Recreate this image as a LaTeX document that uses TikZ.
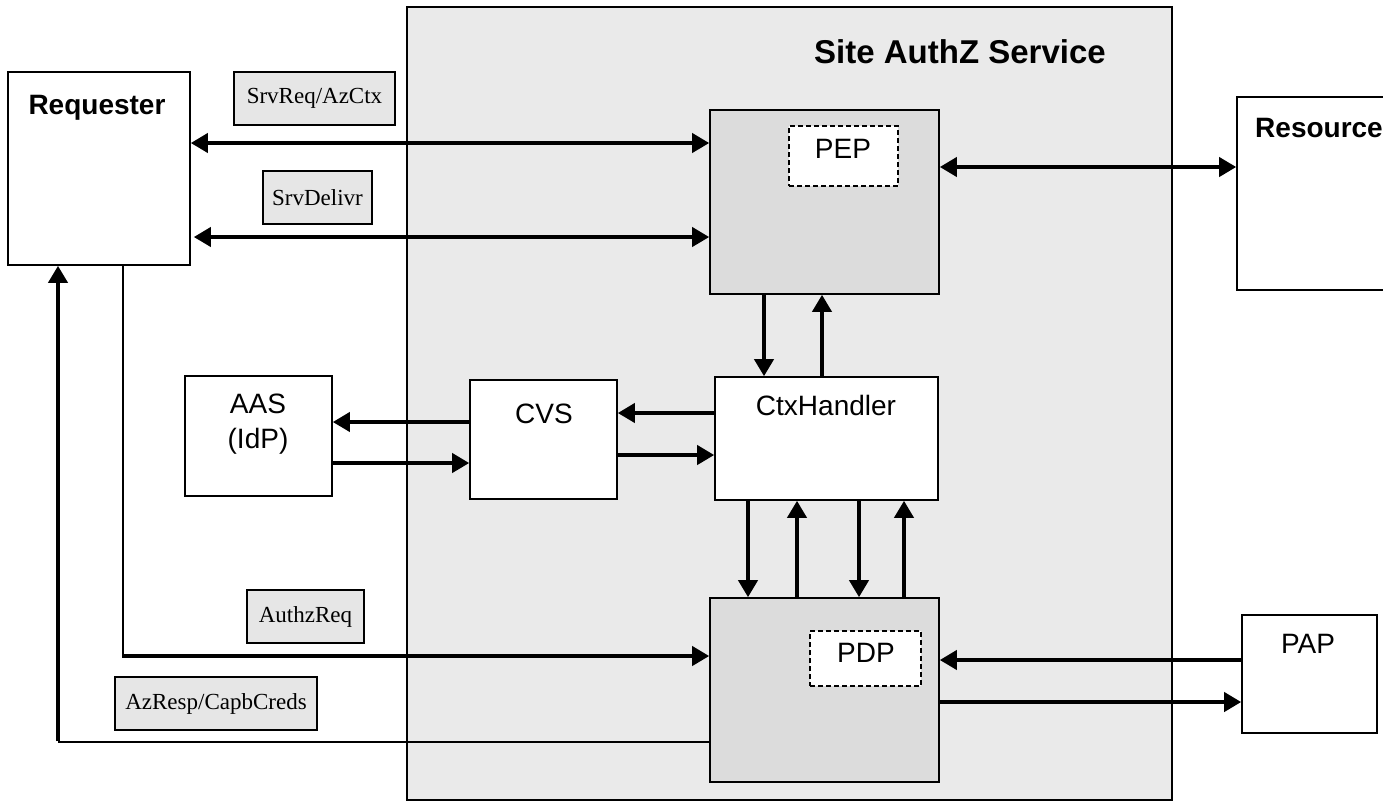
\documentclass[tikz,border=0pt]{standalone}
\usepackage{fontspec}
\setmainfont{Liberation Serif}
\newfontfamily\arial{Liberation Sans}
\usetikzlibrary{arrows.meta}
\definecolor{sitegray}{HTML}{EAEAEA}
\definecolor{unitgray}{HTML}{DCDCDC}
\definecolor{taggray}{HTML}{E6E6E6}
\begin{document}
\begin{tikzpicture}[x=1pt,y=-1pt,
  box/.style={draw=black,line width=1.6pt,fill=white,inner sep=0pt},
  unit/.style={box,fill=unitgray},
  inner/.style={box,dashed,dash pattern=on 5pt off 3pt,line width=1.8pt},
  tag/.style={box,fill=taggray,font=\fontsize{23}{26}\selectfont},
  sans/.style={font=\arial\fontsize{28}{32}\selectfont,anchor=base,inner sep=0pt},
  bsans/.style={font=\arial\bfseries\fontsize{28}{32}\selectfont,anchor=base,inner sep=0pt},
  tip/.style={line width=3.8pt,-{Triangle[length=17pt,width=19pt]}},
  bitip/.style={line width=3.8pt,{Triangle[length=17pt,width=19pt]}-{Triangle[length=17pt,width=19pt]}},
  thin/.style={line width=2pt}
]
\useasboundingbox (0,0) rectangle (1383,804);
\clip (0,0) rectangle (1383,804);

% service boundary
\node[box,fill=sitegray,minimum width=765pt,minimum height=793pt] (site) at (789.5,403.5) {};
\node[font=\arial\bfseries\fontsize{33}{38}\selectfont,anchor=base,inner sep=0pt] (sitet) at (960,63) {Site AuthZ Service};

% outside parties
\node[box,minimum width=182pt,minimum height=193pt] (req) at (99,168.5) {};
\node[bsans] (reqt) at (97,114) {Requester};
\node[box,minimum width=183pt,minimum height=193pt] (res) at (1328.5,193.5) {};
\node[bsans,anchor=base west] (rest) at (1255,137) {Resource};
\node[box,minimum width=147pt,minimum height=120pt] (aas) at (258.5,436) {};
\node[sans] (aast) at (258,413) {AAS};
\node[sans] (aast2) at (258,448) {(IdP)};
\node[box,minimum width=135pt,minimum height=118pt] (pap) at (1309.5,674) {};
\node[sans] (papt) at (1308,653) {PAP};

% service components
\node[unit,minimum width=229pt,minimum height=184pt] (pep) at (824.5,202) {};
\node[inner,minimum width=109pt,minimum height=60pt] (pepin) at (843.5,156) {};
\node[sans] (pept) at (843,158) {PEP};
\node[box,minimum width=223pt,minimum height=123pt] (ctx) at (826.5,438.5) {};
\node[sans] (ctxt) at (826,415) {CtxHandler};
\node[box,minimum width=147pt,minimum height=119pt] (cvs) at (543.5,439.5) {};
\node[sans] (cvst) at (544,423) {CVS};
\node[unit,minimum width=229pt,minimum height=184pt] (pdp) at (824.5,690) {};
\node[inner,minimum width=111pt,minimum height=55pt] (pdpin) at (865.5,658.5) {};
\node[sans] (pdpt) at (866,662) {PDP};

% message tags
\node[tag,minimum width=161pt,minimum height=53pt] (srvreq) at (314.5,98.5) {SrvReq/AzCtx};
\node[tag,minimum width=109pt,minimum height=53pt] (srvdel) at (317.5,197.5) {SrvDelivr};
\node[tag,minimum width=117pt,minimum height=53pt] (authz) at (305.5,616.5) {AuthzReq};
\node[tag,minimum width=202pt,minimum height=53pt] (azresp) at (216,703.5) {AzResp/CapbCreds};

% requester <-> PEP <-> resource
\draw[bitip] (req.east |- 0,143) -- (pep.west |- 0,143);
\draw[bitip] ([xshift=3pt]req.east |- 0,237) -- (pep.west |- 0,237);
\draw[bitip] (pep.east |- 0,167) -- (res.west |- 0,167);

% PEP <-> context handler
\draw[tip] (764,0 |- pep.south) -- (764,0 |- ctx.north);
\draw[tip] (822,0 |- ctx.north) -- (822,0 |- pep.south);

% context handler <-> CVS <-> AAS
\draw[tip] (ctx.west |- 0,413) -- (cvs.east |- 0,413);
\draw[tip] (cvs.east |- 0,455) -- (ctx.west |- 0,455);
\draw[tip] (cvs.west |- 0,422) -- (aas.east |- 0,422);
\draw[tip] (aas.east |- 0,463) -- (cvs.west |- 0,463);

% context handler <-> PDP
\draw[tip] (748,0 |- ctx.south) -- (748,0 |- pdp.north);
\draw[tip] (797,0 |- pdp.north) -- (797,0 |- ctx.south);
\draw[tip] (859,0 |- ctx.south) -- (859,0 |- pdp.north);
\draw[tip] (904,0 |- pdp.north) -- (904,0 |- ctx.south);

% PAP <-> PDP
\draw[tip] (pap.west |- 0,660) -- (pdp.east |- 0,660);
\draw[tip] (pdp.east |- 0,702) -- (pap.west |- 0,702);

% authorisation request and response paths
\coordinate (reqdown) at (123,656);
\coordinate (respup) at (58,742);
\draw[thin] (reqdown |- req.south) -- (reqdown);
\draw[tip] ([xshift=-1pt]reqdown) -- (pdp.west |- reqdown);
\draw[thin] (pdp.west |- respup) -- (respup);
\draw[tip] ([yshift=1pt]respup) -- (respup |- req.south);
\end{tikzpicture}
\end{document}
